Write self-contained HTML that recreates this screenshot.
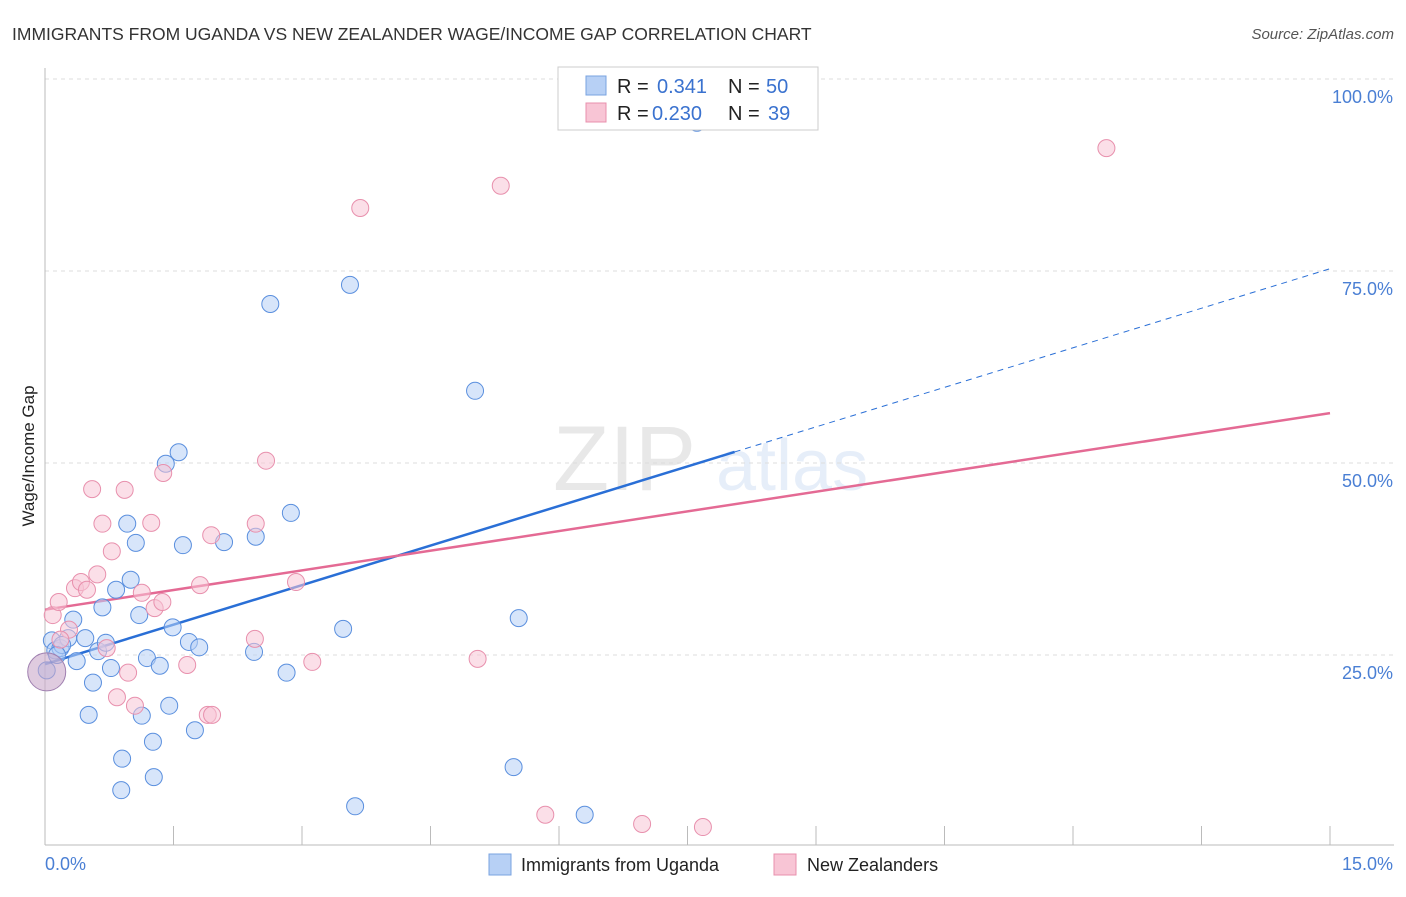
<!DOCTYPE html>
<html><head><meta charset="utf-8"><style>
body{margin:0;background:#fff;font-family:"Liberation Sans",sans-serif;}
svg text{font-family:"Liberation Sans",sans-serif;}
</style></head><body>
<svg id="chart" width="1406" height="892" xmlns="http://www.w3.org/2000/svg">
<text x="12" y="40" font-size="17.5" fill="#333">IMMIGRANTS FROM UGANDA VS NEW ZEALANDER WAGE/INCOME GAP CORRELATION CHART</text>
<text x="1394" y="39" font-size="15" fill="#555" text-anchor="end" font-style="italic">Source: ZipAtlas.com</text>
<g opacity="0.13">
<text x="553" y="490" font-size="92" font-family="Liberation Serif" fill="#555">ZIP</text>
<text x="716" y="490" font-size="72" fill="#4a7fd4">atlas</text>
</g>
<text transform="translate(34,456) rotate(-90)" font-size="17" fill="#222" text-anchor="middle">Wage/Income Gap</text>
<g id="grid"></g><g id="axes"></g><g id="lines"></g><g id="pts"></g>
<g>
<rect x="558" y="67" width="260" height="63" fill="#fff" stroke="#ccc"/>
<rect x="586" y="76" width="20" height="19" fill="#b7d0f5" stroke="#7aa3e0"/>
<rect x="586" y="103" width="20" height="19" fill="#f8c5d5" stroke="#e890ad"/>
<text x="617" y="93" font-size="20" fill="#222">R = </text><text x="657" y="93" font-size="20" fill="#3a72cf">0.341</text>
<text x="728" y="93" font-size="20" fill="#222">N = </text><text x="766" y="93" font-size="20" fill="#3a72cf">50</text>
<text x="617" y="120" font-size="20" fill="#222">R = </text><text x="652" y="120" font-size="20" fill="#3a72cf">0.230</text>
<text x="728" y="120" font-size="20" fill="#222">N = </text><text x="768" y="120" font-size="20" fill="#3a72cf">39</text>
</g>
<g>
<rect x="489" y="854" width="22" height="21" fill="#b7d0f5" stroke="#7aa3e0"/>
<text x="521" y="871" font-size="18" fill="#222">Immigrants from Uganda</text>
<rect x="774" y="854" width="22" height="21" fill="#f8c5d5" stroke="#e890ad"/>
<text x="807" y="871" font-size="18" fill="#222">New Zealanders</text>
</g>
</svg>
<script>
const blueX=[.08,.12,.18,.27,.33,.37,.47,.56,.51,.62,.67,.71,.77,.83,.90,.89,.96,1.00,1.06,1.10,1.13,1.19,1.26,1.27,1.34,1.41,1.45,1.49,1.56,1.61,1.68,1.75,1.80,2.09,2.44,2.46,2.63,2.82,2.87,3.48,3.56,3.62,5.02,5.47,5.53,6.30,7.61,.20,.02,.14];
const blueY=[26.9,25.6,25.9,27.2,29.6,24.2,27.2,21.4,17.2,25.5,31.2,26.6,23.3,33.5,11.5,7.4,42.1,34.8,39.6,30.2,17.1,24.6,13.7,9.1,23.6,49.9,18.4,28.6,51.4,39.3,26.7,15.2,26.0,39.7,25.4,40.4,70.7,22.7,43.5,28.4,73.2,5.3,59.4,10.4,29.8,4.2,94.3,26.3,23.0,25.0];
const pinkX=[.09,.16,.28,.35,.42,.49,.55,.61,.67,.72,.78,.84,.93,.97,1.05,1.13,1.24,1.28,1.37,1.38,1.66,1.81,1.90,1.95,1.94,2.46,2.45,2.58,2.93,3.12,3.68,5.05,5.32,5.84,6.97,7.68,12.39,.18];
const pinkY=[30.2,31.9,28.3,33.7,34.5,33.5,46.6,35.5,42.1,25.9,38.5,19.5,46.5,22.7,18.4,33.1,42.2,31.1,31.9,48.7,23.7,34.1,17.2,17.2,40.6,42.1,27.1,50.3,34.5,24.1,83.2,24.5,86.1,4.2,3.0,2.6,91.0,27.0];
const blueLine=[23.8,75.3], blueSolidEnd=8.05;
const pinkLine=[30.9,56.5];
const yTicks=[25,50,75,100];
const yTickLabels=["25.0%","50.0%","75.0%","100.0%"];
const xTickVals=[0,1.5,3,4.5,6,7.5,9,10.5,12,13.5,15];

const NS="http://www.w3.org/2000/svg";
const sx=v=>45+v/15*1285, sy=v=>847-v/100*768;
function mk(parent,tag,attrs){const e=document.createElementNS(NS,tag);for(const k in attrs)e.setAttribute(k,attrs[k]);document.getElementById(parent).appendChild(e);return e;}
yTicks.forEach((t,i)=>{
  const g=mk('grid','line',{x1:45,x2:1394,y1:sy(t),y2:sy(t),stroke:'#ddd','stroke-dasharray':'4,4'});
  
  
  const l=mk('grid','text',{x:1393,y:sy(t)+24,'font-size':18,fill:'#4a7fd4','text-anchor':'end'});
  l.textContent=yTickLabels[i];
  
  
});
const ax=mk('axes','line',{x1:45,x2:45,y1:68,y2:845,stroke:'#bbb'});


const bx=mk('axes','line',{x1:45,x2:1394,y1:845,y2:845,stroke:'#bbb'});


xTickVals.forEach(v=>{const t=mk('axes','line',{x1:sx(v),x2:sx(v),y1:826,y2:845,stroke:'#bbb'});
  
  });
const xl=mk('axes','text',{x:45,y:870,'font-size':18,fill:'#4a7fd4'});xl.textContent=xTickVals[0].toFixed(1)+'%';


const xr=mk('axes','text',{x:1393,y:870,'font-size':18,fill:'#4a7fd4','text-anchor':'end'});xr.textContent=xTickVals[xTickVals.length-1].toFixed(1)+'%';


function pts(X,Y,fill,stroke,name){X.forEach((x,i)=>{const c=mk('pts','circle',{cx:sx(x),cy:sy(Y[i]),r:8.5,fill:fill,stroke:stroke,'stroke-width':1,'fill-opacity':0.55});
  
  });}
pts(blueX,blueY,'#b7d0f5','#5a8fde','point-uganda');
pts(pinkX,pinkY,'#f8c5d5','#e890ad','point-nz');
const big=mk('pts','circle',{cx:sx(0.02),cy:sy(22.8),r:19,fill:'#c9a9c9','fill-opacity':0.6,stroke:'#a080b0'});


const fb=x=>blueLine[0]+(blueLine[1]-blueLine[0])*x/15, fp=x=>pinkLine[0]+(pinkLine[1]-pinkLine[0])*x/15;
const b1=mk('lines','line',{x1:sx(0),y1:sy(fb(0)),x2:sx(blueSolidEnd),y2:sy(fb(blueSolidEnd)),stroke:'#2a6fd6','stroke-width':2.5});


const b2=mk('lines','line',{x1:sx(blueSolidEnd),y1:sy(fb(blueSolidEnd)),x2:sx(15),y2:sy(fb(15)),stroke:'#2a6fd6','stroke-width':1,'stroke-dasharray':'6,5'});


const p1=mk('lines','line',{x1:sx(0),y1:sy(fp(0)),x2:sx(15),y2:sy(fp(15)),stroke:'#e46a94','stroke-width':2.5});


</script>
</body></html>
